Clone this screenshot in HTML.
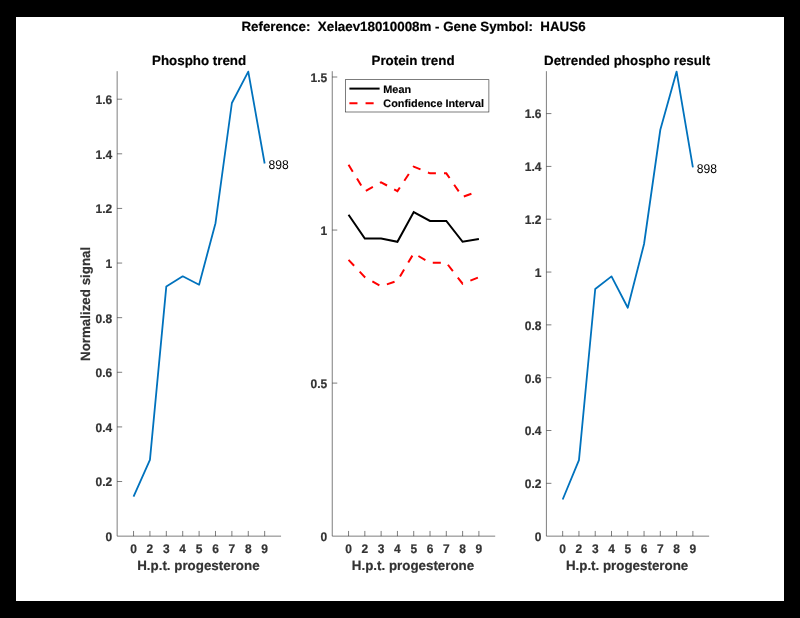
<!DOCTYPE html>
<html><head><meta charset="utf-8"><title>chart</title>
<style>
html,body{margin:0;padding:0;background:#000;}
body{width:800px;height:618px;overflow:hidden;}
svg{display:block;text-rendering:geometricPrecision;filter:blur(0.35px);font-family:"Liberation Sans",sans-serif;}
.t{font-weight:bold;font-size:12px;fill:#333;stroke:#333;stroke-width:0.2;}
.h{font-weight:bold;font-size:13.35px;fill:#000;stroke:#000;stroke-width:0.2;}
.l{font-weight:bold;font-size:13.35px;fill:#333;stroke:#333;stroke-width:0.2;}
.g{font-weight:bold;font-size:10.86px;fill:#000;stroke:#000;stroke-width:0.15;}
.n{font-size:12.15px;fill:#000;}
.ax{stroke:#262626;stroke-width:0.6;fill:none;}
.b{stroke:#0072BD;stroke-width:1.8;fill:none;stroke-linejoin:round;}
.k{stroke:#000;stroke-width:2;fill:none;stroke-linejoin:miter;}
.r{stroke:#f00;stroke-width:2;fill:none;stroke-dasharray:8.08 8.08;stroke-linejoin:miter;}
</style></head><body>
<svg width="800" height="618" viewBox="0 0 800 618">
<rect x="0" y="0" width="800" height="618" fill="#000"/>
<rect x="16" y="17" width="768" height="584" fill="#fff"/>
<text class="h" x="413.5" y="30.8" text-anchor="middle" xml:space="preserve">Reference:  Xelaev18010008m - Gene Symbol:  HAUS6</text>
<g>
<path class="ax" d="M117.15 71.20V536.15H281.05"/>
<path class="ax" d="M133.54 536.15v-5.2M149.93 536.15v-5.2M166.32 536.15v-5.2M182.71 536.15v-5.2M199.10 536.15v-5.2M215.49 536.15v-5.2M231.88 536.15v-5.2M248.27 536.15v-5.2M264.66 536.15v-5.2M117.15 481.53h5M117.15 426.91h5M117.15 372.29h5M117.15 317.67h5M117.15 263.05h5M117.15 208.43h5M117.15 153.81h5M117.15 99.19h5"/>
<text class="t" transform="translate(133.54 552.90) scale(1 1.045)" text-anchor="middle">0</text>
<text class="t" transform="translate(149.93 552.90) scale(1 1.045)" text-anchor="middle">2</text>
<text class="t" transform="translate(166.32 552.90) scale(1 1.045)" text-anchor="middle">3</text>
<text class="t" transform="translate(182.71 552.90) scale(1 1.045)" text-anchor="middle">4</text>
<text class="t" transform="translate(199.10 552.90) scale(1 1.045)" text-anchor="middle">5</text>
<text class="t" transform="translate(215.49 552.90) scale(1 1.045)" text-anchor="middle">6</text>
<text class="t" transform="translate(231.88 552.90) scale(1 1.045)" text-anchor="middle">7</text>
<text class="t" transform="translate(248.27 552.90) scale(1 1.045)" text-anchor="middle">8</text>
<text class="t" transform="translate(264.66 552.90) scale(1 1.045)" text-anchor="middle">9</text>
<text class="t" transform="translate(112.15 541.05) scale(1 1.045)" text-anchor="end">0</text>
<text class="t" transform="translate(112.15 486.43) scale(1 1.045)" text-anchor="end">0.2</text>
<text class="t" transform="translate(112.15 431.81) scale(1 1.045)" text-anchor="end">0.4</text>
<text class="t" transform="translate(112.15 377.19) scale(1 1.045)" text-anchor="end">0.6</text>
<text class="t" transform="translate(112.15 322.57) scale(1 1.045)" text-anchor="end">0.8</text>
<text class="t" transform="translate(112.15 267.95) scale(1 1.045)" text-anchor="end">1</text>
<text class="t" transform="translate(112.15 213.33) scale(1 1.045)" text-anchor="end">1.2</text>
<text class="t" transform="translate(112.15 158.71) scale(1 1.045)" text-anchor="end">1.4</text>
<text class="t" transform="translate(112.15 104.09) scale(1 1.045)" text-anchor="end">1.6</text>
<text class="h" x="199.10" y="65.4" text-anchor="middle">Phospho trend</text>
<text class="l" x="198.40" y="569.7" text-anchor="middle">H.p.t. progesterone</text>
</g>
<g>
<path class="ax" d="M332.25 71.20V536.15H495.20"/>
<path class="ax" d="M348.55 536.15v-5.2M364.84 536.15v-5.2M381.13 536.15v-5.2M397.43 536.15v-5.2M413.73 536.15v-5.2M430.02 536.15v-5.2M446.31 536.15v-5.2M462.61 536.15v-5.2M478.90 536.15v-5.2M332.25 383.10h5M332.25 230.05h5M332.25 77.00h5"/>
<text class="t" transform="translate(348.55 552.90) scale(1 1.045)" text-anchor="middle">0</text>
<text class="t" transform="translate(364.84 552.90) scale(1 1.045)" text-anchor="middle">2</text>
<text class="t" transform="translate(381.13 552.90) scale(1 1.045)" text-anchor="middle">3</text>
<text class="t" transform="translate(397.43 552.90) scale(1 1.045)" text-anchor="middle">4</text>
<text class="t" transform="translate(413.73 552.90) scale(1 1.045)" text-anchor="middle">5</text>
<text class="t" transform="translate(430.02 552.90) scale(1 1.045)" text-anchor="middle">6</text>
<text class="t" transform="translate(446.31 552.90) scale(1 1.045)" text-anchor="middle">7</text>
<text class="t" transform="translate(462.61 552.90) scale(1 1.045)" text-anchor="middle">8</text>
<text class="t" transform="translate(478.90 552.90) scale(1 1.045)" text-anchor="middle">9</text>
<text class="t" transform="translate(327.25 541.05) scale(1 1.045)" text-anchor="end">0</text>
<text class="t" transform="translate(327.25 388.00) scale(1 1.045)" text-anchor="end">0.5</text>
<text class="t" transform="translate(327.25 234.95) scale(1 1.045)" text-anchor="end">1</text>
<text class="t" transform="translate(327.25 81.90) scale(1 1.045)" text-anchor="end">1.5</text>
<text class="h" x="413.03" y="65.4" text-anchor="middle">Protein trend</text>
<text class="l" x="413.03" y="569.7" text-anchor="middle">H.p.t. progesterone</text>
</g>
<g>
<path class="ax" d="M546.40 71.20V536.15H709.15"/>
<path class="ax" d="M562.67 536.15v-5.2M578.95 536.15v-5.2M595.23 536.15v-5.2M611.50 536.15v-5.2M627.77 536.15v-5.2M644.05 536.15v-5.2M660.32 536.15v-5.2M676.60 536.15v-5.2M692.88 536.15v-5.2M546.40 483.33h5M546.40 430.51h5M546.40 377.69h5M546.40 324.87h5M546.40 272.05h5M546.40 219.23h5M546.40 166.41h5M546.40 113.59h5"/>
<text class="t" transform="translate(562.67 552.90) scale(1 1.045)" text-anchor="middle">0</text>
<text class="t" transform="translate(578.95 552.90) scale(1 1.045)" text-anchor="middle">2</text>
<text class="t" transform="translate(595.23 552.90) scale(1 1.045)" text-anchor="middle">3</text>
<text class="t" transform="translate(611.50 552.90) scale(1 1.045)" text-anchor="middle">4</text>
<text class="t" transform="translate(627.77 552.90) scale(1 1.045)" text-anchor="middle">5</text>
<text class="t" transform="translate(644.05 552.90) scale(1 1.045)" text-anchor="middle">6</text>
<text class="t" transform="translate(660.32 552.90) scale(1 1.045)" text-anchor="middle">7</text>
<text class="t" transform="translate(676.60 552.90) scale(1 1.045)" text-anchor="middle">8</text>
<text class="t" transform="translate(692.88 552.90) scale(1 1.045)" text-anchor="middle">9</text>
<text class="t" transform="translate(541.40 541.05) scale(1 1.045)" text-anchor="end">0</text>
<text class="t" transform="translate(541.40 488.23) scale(1 1.045)" text-anchor="end">0.2</text>
<text class="t" transform="translate(541.40 435.41) scale(1 1.045)" text-anchor="end">0.4</text>
<text class="t" transform="translate(541.40 382.59) scale(1 1.045)" text-anchor="end">0.6</text>
<text class="t" transform="translate(541.40 329.77) scale(1 1.045)" text-anchor="end">0.8</text>
<text class="t" transform="translate(541.40 276.95) scale(1 1.045)" text-anchor="end">1</text>
<text class="t" transform="translate(541.40 224.13) scale(1 1.045)" text-anchor="end">1.2</text>
<text class="t" transform="translate(541.40 171.31) scale(1 1.045)" text-anchor="end">1.4</text>
<text class="t" transform="translate(541.40 118.49) scale(1 1.045)" text-anchor="end">1.6</text>
<text class="h" x="627.07" y="65.4" text-anchor="middle">Detrended phospho result</text>
<text class="l" x="627.07" y="569.7" text-anchor="middle">H.p.t. progesterone</text>
</g>
<text class="l" transform="translate(90.2 303.9) rotate(-90)" text-anchor="middle">Normalized signal</text>
<polyline class="b" points="133.54,496.60 149.93,459.80 166.32,286.40 182.71,276.30 199.10,284.70 215.49,223.20 231.88,103.00 248.27,71.60 264.66,163.50"/>
<polyline class="b" points="562.67,499.50 578.95,460.20 595.23,289.00 611.50,276.40 627.77,307.75 644.05,244.00 660.32,129.75 676.60,71.60 692.88,167.45"/>
<text class="n" transform="translate(268.56 169.10) scale(1 1.045)">898</text>
<text class="n" transform="translate(696.77 173.05) scale(1 1.045)">898</text>
<polyline class="k" points="348.55,214.79 364.84,238.50 381.13,238.50 397.43,241.78 413.73,212.09 430.02,220.90 446.31,220.90 462.61,241.78 478.90,239.00"/>
<polyline class="r" points="348.55,164.82 364.84,191.41 381.13,182.31 397.43,191.12 413.73,166.69 430.02,173.32 446.31,173.32 462.61,196.96 478.90,191.12"/>
<polyline class="r" points="348.55,259.89 364.84,277.09 381.13,286.30 397.43,280.80 413.73,253.30 430.02,262.70 446.31,262.70 462.61,283.70 478.90,277.24"/>
<rect x="345.3" y="79.7" width="143.6" height="32.3" fill="#fff" stroke="#262626" stroke-width="0.6"/>
<path class="k" d="M349.4 88.6H379.6"/>
<path class="r" d="M349.4 103.3H379.6"/>
<text class="g" x="383.3" y="92.6">Mean</text>
<text class="g" x="383.3" y="107.1">Confidence Interval</text>
</svg>
</body></html>
